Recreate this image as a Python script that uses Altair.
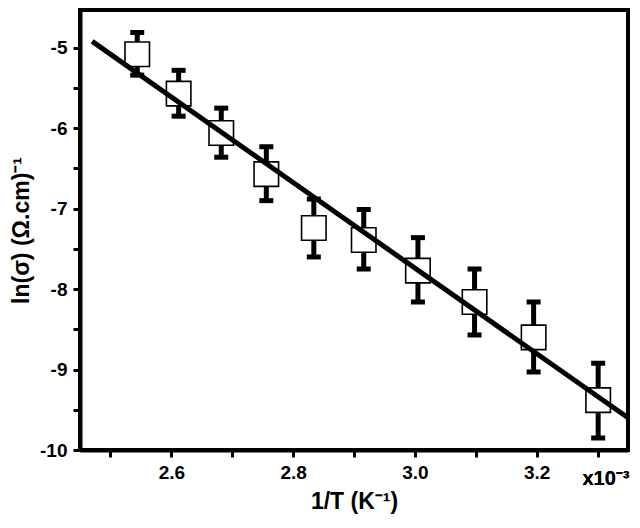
import altair as alt
import pandas as pd

inv_t = [2.544, 2.612, 2.682, 2.756, 2.834, 2.916, 3.005, 3.098, 3.195, 3.301]
ln_sigma = [-5.08, -5.57, -6.06, -6.57, -7.24, -7.39, -7.77, -8.16, -8.60, -9.38]
err_hi = [-4.81, -5.28, -5.75, -6.23, -6.88, -7.01, -7.36, -7.75, -8.16, -8.92]
err_lo = [-5.34, -5.85, -6.36, -6.90, -7.60, -7.75, -8.16, -8.57, -9.03, -9.85]
fit_x = [2.47, 3.35]
fit_y = [-4.92, -9.60]

pts = pd.DataFrame({"x": inv_t, "y": ln_sigma, "hi": err_hi, "lo": err_lo})
fit = pd.DataFrame({"x": fit_x, "y": fit_y})

font = "Liberation Sans"
xs = alt.Scale(domain=[2.45, 3.35], nice=False, zero=False)
ys = alt.Scale(domain=[-10, -4.53], nice=False, zero=False)

x_axis = alt.Axis(
    values=[2.5, 2.6, 2.7, 2.8, 2.9, 3.0, 3.1, 3.2, 3.3], grid=False,
    labelExpr="abs(round(datum.value*10) % 2) == 0 && datum.value < 3.25 ? format(datum.value, '.1f') : ''",
    title="1/T (K⁻¹)", titlePadding=8,
)
y_axis = alt.Axis(
    values=[-10, -9.5, -9, -8.5, -8, -7.5, -7, -6.5, -6, -5.5, -5], grid=False,
    labelExpr="datum.value == round(datum.value) ? '-' + abs(datum.value) : ''",
    title="ln(σ) (Ω.cm)⁻¹", titlePadding=6,
)

bars = alt.Chart(pts).mark_rule(color="black", strokeWidth=5).encode(
    x=alt.X("x:Q", scale=xs, axis=x_axis),
    y=alt.Y("lo:Q", scale=ys, axis=y_axis),
    y2="hi:Q",
)
cap_hi = alt.Chart(pts).mark_tick(color="black", orient="horizontal", size=14, thickness=5, opacity=1).encode(
    x=alt.X("x:Q", scale=xs), y=alt.Y("hi:Q", scale=ys)
)
cap_lo = alt.Chart(pts).mark_tick(color="black", orient="horizontal", size=14, thickness=5, opacity=1).encode(
    x=alt.X("x:Q", scale=xs), y=alt.Y("lo:Q", scale=ys)
)
squares = alt.Chart(pts).mark_square(size=600, fill="white", stroke="black", strokeWidth=1.6, opacity=1).encode(
    x=alt.X("x:Q", scale=xs), y=alt.Y("y:Q", scale=ys)
)
line = alt.Chart(fit).mark_line(color="black", strokeWidth=5).encode(
    x=alt.X("x:Q", scale=xs), y=alt.Y("y:Q", scale=ys)
)
exp_label = alt.Chart(fit).mark_text(
    text="x10⁻³", font=font, fontSize=20, fontWeight="bold", align="center"
).encode(x=alt.value(526), y=alt.value(469))

chart = alt.layer(bars, cap_hi, cap_lo, squares, line, exp_label).properties(
    width=548, height=440,
    autosize=alt.AutoSizeParams(type="none"),
    padding={"left": 72, "top": 2, "right": 4, "bottom": 70},
).configure_view(
    stroke="black", strokeWidth=4
).configure_axis(
    domainColor="black", domainWidth=4, tickColor="black", tickWidth=3, tickSize=7,
    labelFont=font, labelFontSize=19, labelFontWeight="bold", labelColor="black",
    titleFont=font, titleFontSize=23, titleFontWeight="bold", titleColor="black",
    labelPadding=6,
)

chart.save("out.html", embed_options={"renderer": "svg", "actions": False})
